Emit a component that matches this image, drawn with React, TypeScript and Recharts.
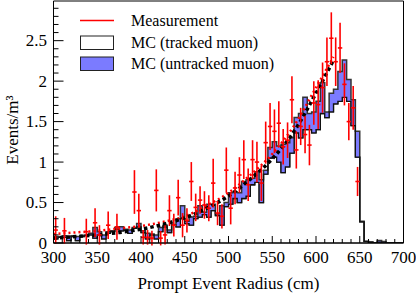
import React from 'react';
import { ComposedChart, Area, Line, Scatter, XAxis, YAxis, ErrorBar, ReferenceArea, Legend } from 'recharts';

// Bin edges of the MC histograms (cm)
const binEdges = [
  300, 305, 310, 315, 320, 325, 330, 335, 340, 345, 350, 355, 360, 365, 370, 375, 380, 385, 390, 395,
  400, 405, 410, 415, 420, 425, 430, 435, 440, 445, 450, 455, 460, 465, 470, 475, 480, 485, 490, 495,
  500, 505, 510, 515, 520, 525, 530, 535, 540, 545, 550, 555, 560, 565, 570, 575, 580, 585, 590, 595,
  600, 605, 610, 615, 620, 625, 630, 635, 640, 645, 650, 655, 660, 665, 670, 675, 680, 685, 690, 695, 700,
];

// MC (tracked muon), events/m^3 per bin
const trackedMuon = [
  0.05, 0.07, 0.07, 0.03, 0.08, 0.03, 0.08, 0.09, 0.10, 0.06, 0.10, 0.05, 0.12, 0.14, 0.17, 0.15, 0.16, 0.12, 0.18, 0.20,
  0.13, 0.05, 0.10, 0.05, 0.14, 0.20, 0.13, 0.22, 0.20, 0.30, 0.24, 0.22, 0.30, 0.32, 0.35, 0.32, 0.40, 0.34, 0.22, 0.45,
  0.48, 0.55, 0.50, 0.55, 0.58, 0.72, 0.75, 0.50, 0.85, 1.05, 1.06, 1.00, 0.87, 0.94, 1.11, 1.36, 1.30, 1.40, 1.40, 1.36,
  1.40, 1.60, 1.55, 1.62, 1.72, 1.75, 1.80, 1.75, 1.45, 1.06, 0.26, 0.02, 0.01, 0, 0.01, 0, 0, 0, 0, 0,
];

// MC (untracked muon), stacked on top of tracked
const untrackedMuon = [
  0.03, 0.01, 0.02, 0.05, 0.01, 0.05, 0.01, 0.01, 0.02, 0.13, 0.04, 0.05, 0.02, 0.01, 0.02, 0.05, 0.01, 0.04, 0.01, 0.04,
  0.02, 0.07, 0.01, 0.05, 0.05, 0.02, 0.03, 0.01, 0.10, 0.16, 0.03, 0.10, 0.03, 0.14, 0.03, 0.16, 0.08, 0.02, 0.24, 0.05,
  0.14, 0.08, 0.12, 0.21, 0.20, 0.08, 0.13, 0.28, 0.05, 0.13, 0.19, 0.20, 0.35, 0.30, 0.19, 0.19, 0.30, 0.40, 0.20, 0.26,
  0.35, 0.38, 0.07, 0.23, 0.18, 0.37, 0.46, 0.27, 0.32, 0.32, 0.01, 0, 0, 0, 0.02, 0.02, 0, 0, 0, 0,
];

// Measurement points (bin centres, values, errors)
const measX = [
  302.5, 312.5, 337.5, 347.5, 352.5, 362.5, 372.5,
  392.5, 397.5, 402.5, 407.5, 412.5, 417.5, 422.5, 427.5, 432.5, 437.5,
  442.5, 447.5, 452.5, 457.5, 462.5, 467.5, 472.5, 477.5, 482.5, 487.5,
  492.5, 497.5, 502.5, 507.5, 512.5, 517.5, 522.5, 527.5, 532.5, 537.5,
  542.5, 547.5, 552.5, 557.5, 562.5, 567.5, 572.5, 577.5, 582.5, 587.5,
  592.5, 597.5, 602.5, 607.5, 612.5, 617.5, 622.5, 627.5, 632.5, 637.5,
  642.5, 647.5,
];
const measY = [
  0.16, 0.15, 0.14, 0.25, 0.10, 0.22, 0.20,
  0.63, 0.40, 0.07, 0.07, 0.06, 0.65, 0.06, 0.10, 0.40, 0.22,
  0.56, 0.22, 0.28, 0.76, 0.44, 0.53, 0.47, 0.43, 0.74, 0.37,
  0.33, 0.90, 0.43, 0.68, 0.84, 1.03, 0.72, 1.03, 1.00, 0.74,
  1.24, 1.44, 1.38, 1.48, 1.19, 1.27, 1.77, 1.15, 1.44, 1.34,
  1.21, 1.73, 1.71, 1.92, 2.24, 2.53, 2.24, 2.41, 1.96, 1.50,
  1.67, 0.76,
];
const measErr = [
  0.17, 0.16, 0.16, 0.18, 0.12, 0.17, 0.16,
  0.27, 0.21, 0.09, 0.09, 0.09, 0.26, 0.09, 0.12, 0.19, 0.14,
  0.22, 0.15, 0.15, 0.24, 0.17, 0.17, 0.17, 0.16, 0.30, 0.15,
  0.15, 0.28, 0.20, 0.20, 0.22, 0.24, 0.20, 0.24, 0.25, 0.22,
  0.26, 0.29, 0.27, 0.27, 0.22, 0.22, 0.29, 0.23, 0.23, 0.23,
  0.25, 0.27, 0.30, 0.31, 0.30, 0.32, 0.30, 0.31, 0.26, 0.23,
  0.27, 0.18,
];
const binHalfWidth = 2.5;

// Fitted curves (dotted)
const fitX = [300, 325, 350, 375, 400, 425, 450, 475, 500, 525, 550, 575, 600, 620];
const fitData = [0.11, 0.13, 0.15, 0.18, 0.21, 0.26, 0.33, 0.46, 0.62, 0.84, 1.10, 1.45, 1.92, 2.30];
const fitMC = [0.06, 0.08, 0.10, 0.13, 0.17, 0.23, 0.31, 0.43, 0.58, 0.79, 1.04, 1.38, 1.85, 2.26];

const xMajorTicks = [300, 350, 400, 450, 500, 550, 600, 650, 700];
const xAllTicks = [300, 310, 320, 330, 340, 350, 360, 370, 380, 390, 400, 410, 420, 430, 440, 450, 460, 470,
  480, 490, 500, 510, 520, 530, 540, 550, 560, 570, 580, 590, 600, 610, 620, 630, 640, 650, 660, 670, 680, 690, 700];
const yMajorTicks = [0, 0.5, 1, 1.5, 2, 2.5];
const yAllTicks = [0, 0.1, 0.2, 0.3, 0.4, 0.5, 0.6, 0.7, 0.8, 0.9, 1, 1.1, 1.2, 1.3, 1.4, 1.5, 1.6, 1.7, 1.8, 1.9,
  2, 2.1, 2.2, 2.3, 2.4, 2.5, 2.6, 2.7, 2.8, 2.9];

const xTitle = 'Prompt Event Radius (cm)';
const yTitle = 'Events/m³';
const legendItems = [
  { label: 'Measurement', kind: 'line', color: '#ff0000' },
  { label: 'MC (tracked muon)', kind: 'box', color: '#ffffff' },
  { label: 'MC (untracked muon)', kind: 'box', color: '#7b7bff' },
];

const W = 416;
const H = 296;
const Y_MAX = 2.99;
const FONT = '"Liberation Serif", "Times New Roman", serif';

function isMajor(v: number, majors: number[]) {
  return majors.some((m) => Math.abs(m - v) < 1e-6);
}

function XTick(props: any) {
  const { x, y, payload } = props;
  const major = isMajor(payload.value, xMajorTicks);
  return (
    <g>
      <line x1={x} x2={x} y1={y} y2={y - (major ? 7 : 4)} stroke="#000" strokeWidth={1} />
      {major && (
        <text x={x} y={y + 20} textAnchor="middle" fill="#000" fontSize={17} fontFamily={FONT}>
          {payload.value}
        </text>
      )}
    </g>
  );
}

function YTick(props: any) {
  const { x, y, payload } = props;
  const major = isMajor(payload.value, yMajorTicks);
  return (
    <g>
      <line x1={x} x2={x + (major ? 10 : 5)} y1={y} y2={y} stroke="#000" strokeWidth={1} />
      {major && (
        <text x={x - 6.5} y={y} textAnchor="end" dominantBaseline="central" fill="#000" fontSize={17} fontFamily={FONT}>
          {payload.value}
        </text>
      )}
    </g>
  );
}

function LegendBox() {
  return (
    <div style={{ fontFamily: FONT, fontSize: 16, color: '#000' }}>
      {legendItems.map((it) => (
        <div key={it.label} style={{ display: 'flex', alignItems: 'center', height: 21.5 }}>
          <svg width={34} height={21.5} style={{ display: 'block' }}>
            {it.kind === 'line' ? (
              <line x1={0} x2={34} y1={10.5} y2={10.5} stroke={it.color} strokeWidth={1.5} />
            ) : (
              <rect x={0.5} y={4} width={33} height={13.5} fill={it.color} stroke="#222" strokeWidth={1} />
            )}
          </svg>
          <span style={{ marginLeft: 17, whiteSpace: 'nowrap', lineHeight: '21.5px' }}>{it.label}</span>
        </div>
      ))}
    </div>
  );
}

export default function App() {
  const histRows = binEdges.map((x, i) => {
    const k = Math.min(i, trackedMuon.length - 1);
    return { x, tracked: trackedMuon[k], untracked: untrackedMuon[k] };
  });
  const measRows = measX.map((x, i) => ({ x, y: measY[i], err: measErr[i], xerr: binHalfWidth }));
  const fitRows = fitX.map((x, i) => ({ x, data: fitData[i], mc: fitMC[i] }));

  return (
    <div style={{ position: 'fixed', left: 0, top: 0, width: W, height: H, background: '#fff' }}>
      <ComposedChart width={W} height={H} margin={{ top: 1, right: 12.5, bottom: 0, left: 0 }}>
        <XAxis
          type="number"
          dataKey="x"
          domain={[300, 700]}
          allowDataOverflow
          ticks={xAllTicks}
          interval={0}
          tickSize={0}
          tickMargin={0}
          height={53}
          axisLine={{ stroke: '#000' }}
          tickLine={false}
          tick={<XTick />}
          label={(p: any) => {
            const vb = p.viewBox || {};
            return (
              <text x={vb.x + vb.width / 2} y={vb.y + 46} textAnchor="middle" fill="#000" fontSize={17} fontFamily={FONT}>
                {xTitle}
              </text>
            );
          }}
        />
        <YAxis
          type="number"
          domain={[0, Y_MAX]}
          allowDataOverflow
          ticks={yAllTicks}
          interval={0}
          tickSize={0}
          tickMargin={0}
          width={53.5}
          axisLine={{ stroke: '#000' }}
          tickLine={false}
          tick={<YTick />}
          label={(p: any) => {
            const vb = p.viewBox || {};
            const cx = vb.x + 12.5;
            const cy = vb.y + vb.height / 2 + 8;
            return (
              <text
                x={cx}
                y={cy}
                transform={`rotate(-90 ${cx} ${cy})`}
                textAnchor="middle"
                dominantBaseline="central"
                fill="#000"
                fontSize={17}
                fontFamily={FONT}
              >
                {yTitle}
              </text>
            );
          }}
        />
        <Legend
          layout="vertical"
          align="center"
          verticalAlign="middle"
          wrapperStyle={{ left: 80, top: 10, width: 260 }}
          content={() => <LegendBox />}
        />
        <Area
          data={histRows}
          dataKey="tracked"
          stackId="mc"
          type="stepAfter"
          fill="#ffffff"
          fillOpacity={1}
          stroke="#111"
          strokeWidth={1.3}
          isAnimationActive={false}
        />
        <Area
          data={histRows}
          dataKey="untracked"
          stackId="mc"
          type="stepAfter"
          fill="#7b7bff"
          fillOpacity={1}
          stroke="#333"
          strokeWidth={1.5}
          isAnimationActive={false}
        />
        <Line
          data={histRows}
          dataKey="tracked"
          type="stepAfter"
          stroke="#111"
          strokeWidth={1.3}
          dot={false}
          isAnimationActive={false}
        />
        <Line
          data={fitRows}
          dataKey="data"
          type="monotone"
          stroke="#ff0000"
          strokeWidth={2.5}
          strokeDasharray="2 3"
          dot={false}
          isAnimationActive={false}
        />
        <Line
          data={fitRows}
          dataKey="mc"
          type="monotone"
          stroke="#000"
          strokeWidth={3.5}
          strokeDasharray="3.5 3"
          dot={false}
          isAnimationActive={false}
        />
        <Scatter data={measRows} dataKey="y" fill="#ff0000" shape={() => <g />} isAnimationActive={false}>
          <ErrorBar dataKey="err" direction="y" width={0} stroke="#ff0000" strokeWidth={1.6} />
          <ErrorBar dataKey="xerr" direction="x" width={0} stroke="#ff0000" strokeWidth={1.6} />
        </Scatter>
        <ReferenceArea x1={300} x2={700} y1={0} y2={Y_MAX} fill="none" stroke="#000" strokeWidth={1} />
      </ComposedChart>
    </div>
  );
}
